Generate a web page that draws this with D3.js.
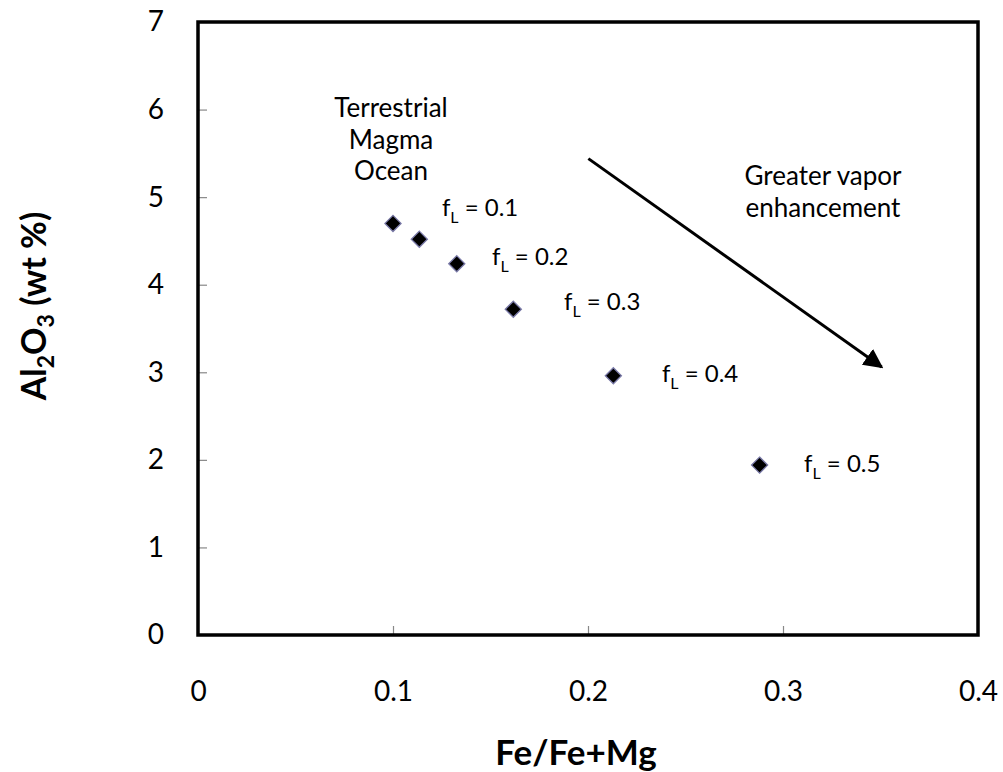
<!DOCTYPE html>
<html>
<head>
<meta charset="utf-8">
<script src="https://cdn.jsdelivr.net/npm/d3@7"></script>
<style>
  html, body { margin: 0; padding: 0; background: #fff; }
  svg { display: block; font-family: Lato, "Open Sans", sans-serif; }
</style>
</head>
<body>
<svg id="chart" width="1003" height="772"></svg>
<script>
// Fe/(Fe+Mg) vs Al2O3 for increasing melt fraction f_L
const feRatio = [0.100, 0.1135, 0.1327, 0.1617, 0.213, 0.288];
const al2o3   = [4.70, 4.52, 4.24, 3.72, 2.96, 1.94];
const fLabels = ["0.1", "0.2", "0.3", "0.4", "0.5"];
// baseline anchor points (data coords) of the f_L labels
const labelPts = [[0.1251, 4.785], [0.1508, 4.225], [0.1877, 3.711], [0.2379, 2.889], [0.3108, 1.861]];
const xTicks = [0, 0.1, 0.2, 0.3, 0.4];
const yTicks = [0, 1, 2, 3, 4, 5, 6, 7];
const trendArrow = [[0.2002, 5.44], [0.3506, 3.06]];

const svg = d3.select("#chart");
const box = { left: 198, right: 978, top: 22, bottom: 635 };

const x = d3.scaleLinear().domain([0, 0.4]).range([box.left, box.right]);
const y = d3.scaleLinear().domain([0, 7]).range([box.bottom, box.top]);

// axes with inward ticks
const xAxis = svg.append("g")
  .attr("transform", `translate(0,${box.bottom})`)
  .call(d3.axisBottom(x).tickValues(xTicks).tickSize(-9).tickPadding(46)
        .tickFormat(d => d === 0 ? "0" : d3.format(".1f")(d)));
const yAxis = svg.append("g")
  .attr("transform", `translate(${box.left},0)`)
  .call(d3.axisLeft(y).tickValues(yTicks).tickSize(-9).tickPadding(34).tickFormat(d3.format("d")));

[xAxis, yAxis].forEach(g => {
  g.select(".domain").remove();
  g.selectAll(".tick line").attr("stroke", "#888").attr("stroke-width", 1.2);
  g.selectAll(".tick text").attr("fill", "#000").style("font-size", "28px")
    .style("font-family", "Lato, 'Open Sans', sans-serif");
});
// no tick marks on the frame corners
xAxis.selectAll(".tick").filter(d => d === 0 || d === 0.4).select("line").remove();
yAxis.selectAll(".tick").filter(d => d === 0 || d === 7).select("line").remove();

// plot frame
svg.append("rect")
  .attr("x", box.left).attr("y", box.top)
  .attr("width", box.right - box.left).attr("height", box.bottom - box.top)
  .attr("fill", "none").attr("stroke", "#000").attr("stroke-width", 3.5);

// axis titles
svg.append("text")
  .attr("x", 576).attr("y", 765)
  .attr("text-anchor", "middle")
  .style("font-size", "35px").style("font-weight", "bold")
  .text("Fe/Fe+Mg");

const yt = svg.append("text")
  .attr("transform", `translate(46,306) rotate(-90)`)
  .attr("text-anchor", "middle")
  .style("font-size", "34px").style("font-weight", "bold");
yt.append("tspan").text("Al");
yt.append("tspan").attr("dy", 8).style("font-size", "23px").text("2");
yt.append("tspan").attr("dy", -8).text("O");
yt.append("tspan").attr("dy", 8).style("font-size", "23px").text("3");
yt.append("tspan").attr("dy", -8).text(" (wt %)");

// arrow marker
svg.append("defs").append("marker")
  .attr("id", "head").attr("viewBox", "0 0 10 10")
  .attr("refX", 9).attr("refY", 5)
  .attr("markerWidth", 6.5).attr("markerHeight", 6.5)
  .attr("markerUnits", "strokeWidth")
  .attr("orient", "auto")
  .append("path").attr("d", "M0,0 L10,5 L0,10 Z").attr("fill", "#000");

svg.append("line")
  .attr("x1", x(trendArrow[0][0])).attr("y1", y(trendArrow[0][1]))
  .attr("x2", x(trendArrow[1][0])).attr("y2", y(trendArrow[1][1]))
  .attr("stroke", "#000").attr("stroke-width", 3)
  .attr("marker-end", "url(#head)");

// data points (diamonds)
const diamond = d3.symbol().type(d3.symbolDiamond2).size(165);
svg.append("g").selectAll("path")
  .data(feRatio.map((v, i) => [v, al2o3[i]]))
  .join("path")
  .attr("transform", d => `translate(${x(d[0])},${y(d[1])})`)
  .attr("d", diamond)
  .attr("fill", "#000")
  .attr("stroke", "#7a7aa8").attr("stroke-width", 1.3);

// annotations
const ann = svg.append("g").attr("fill", "#000");

const tmo = ann.append("text").attr("text-anchor", "middle")
  .style("font-size", "26px").attr("x", 391).attr("y", 117);
["Terrestrial", "Magma", "Ocean"].forEach((t, i) =>
  tmo.append("tspan").attr("x", 391).attr("dy", i === 0 ? 0 : 31.5).text(t));

const gv = ann.append("text").attr("text-anchor", "middle")
  .style("font-size", "26px").attr("x", 823).attr("y", 185);
["Greater vapor", "enhancement"].forEach((t, i) =>
  gv.append("tspan").attr("x", 823).attr("dy", i === 0 ? 0 : 32).text(t));

labelPts.forEach((p, i) => {
  const t = ann.append("text")
    .style("font-size", "24px")
    .attr("x", x(p[0])).attr("y", y(p[1]));
  t.append("tspan").text("f");
  t.append("tspan").attr("dy", 7).style("font-size", "16px").text("L");
  t.append("tspan").attr("dy", -7).text(" = " + fLabels[i]);
});
</script>
</body>
</html>
